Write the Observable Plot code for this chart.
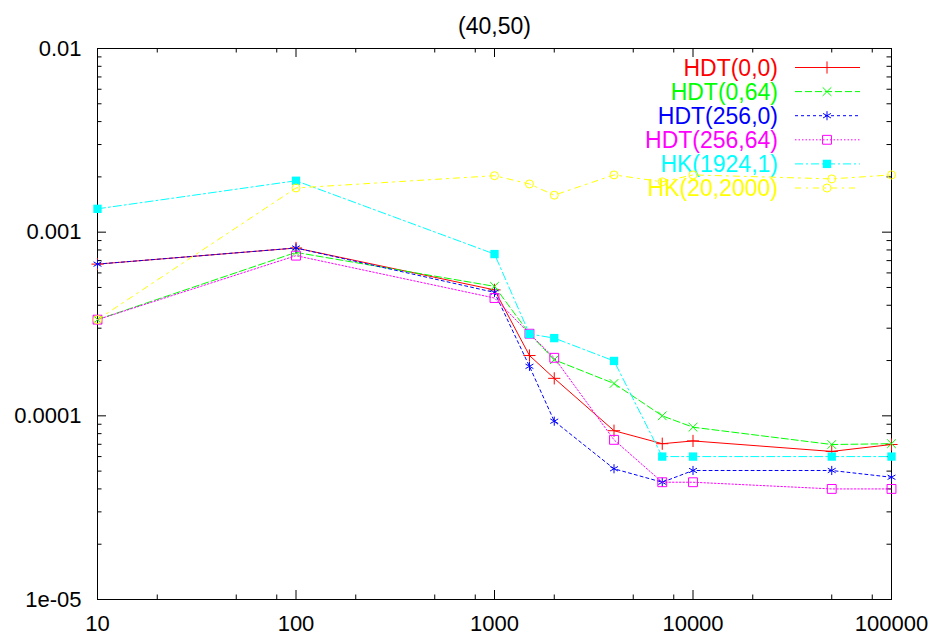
<!DOCTYPE html>
<html><head><meta charset="utf-8">
<script src="https://cdn.jsdelivr.net/npm/d3@7"></script>
<script src="https://cdn.jsdelivr.net/npm/@observablehq/plot@0.6"></script>
<style>body{margin:0;background:#fff}</style>
</head><body><div id="chart"></div>
<script>
const title = "(40,50)";
const xValues = [10, 100, 1000, 1500, 2000, 4000, 7000, 10000, 50000, 100000];
const hdt00   = [6.7e-4, 8.2e-4, 4.85e-4, 2.13e-4, 1.6e-4, 8.3e-5, 7.05e-5, 7.3e-5, 6.4e-5, 6.98e-5];
const hdt064  = [3.34e-4, 7.76e-4, 5.07e-4, 2.8e-4, 2.02e-4, 1.5e-4, 1.0e-4, 8.67e-5, 6.98e-5, 7.05e-5];
const hdt2560 = [6.7e-4, 8.2e-4, 4.7e-4, 1.86e-4, 9.35e-5, 5.15e-5, 4.35e-5, 5.04e-5, 5.04e-5, 4.63e-5];
const hdt25664= [3.34e-4, 7.45e-4, 4.38e-4, 2.8e-4, 2.07e-4, 7.4e-5, 4.35e-5, 4.35e-5, 4.0e-5, 4.0e-5];
const hk19241 = [1.34e-3, 1.905e-3, 7.6e-4, 2.79e-4, 2.65e-4, 1.99e-4, 6.0e-5, 6.0e-5, 6.0e-5, 6.0e-5];
const hk202000= [3.34e-4, 1.74e-3, 2.03e-3, 1.83e-3, 1.59e-3, 2.05e-3, 1.88e-3, 2.05e-3, 1.95e-3, 2.05e-3];

const names = ["HDT(0,0)", "HDT(0,64)", "HDT(256,0)", "HDT(256,64)", "HK(1924,1)", "HK(20,2000)"];
const seriesValues = [hdt00, hdt064, hdt2560, hdt25664, hk19241, hk202000];

const xTicks = [10, 100, 1000, 10000, 100000];
const xTickLabels = ["10", "100", "1000", "10000", "100000"];
const yTicks = [1e-5, 1e-4, 1e-3, 1e-2];
const yTickLabels = ["1e-05", "0.0001", "0.001", "0.01"];
const xMinor = [20, 50, 80, 200, 500, 800, 2000, 5000, 8000, 20000, 50000, 80000];
const yMinor = [1e-5, 1e-4, 1e-3].flatMap(d => [2,3,4,5,6,7,8,9].map(k => k * d));

// styles
const colors = ["#ff0000", "#00ff00", "#0000ff", "#ff00ff", "#00ffff", "#ffff00"];
const dashes = [null, "7,3", "3,3", "1.5,2", "8,3,2,3", "6,5,2,5"];
const symbols = ["plus", "times", "asterisk", "square", "square", "circle"];
const d3Symbols = [d3.symbolPlus, d3.symbolTimes, d3.symbolAsterisk, d3.symbolSquare, d3.symbolSquare, d3.symbolCircle];
const filled = [false, false, false, false, true, false];
const radii = [4, 4, 4.3, 5, 4.7, 4];

const rows = seriesValues.flatMap((vals, i) => vals.map((v, j) => ({series: names[i], x: xValues[j], y: v})));

const W = 933, H = 640, mL = 97, mR = 42, mT = 48, mB = 41;
const plotH = H - mT - mB, plotW = W - mL - mR;
const MAJ = 9, MIN = 4.5;
const font = "'Liberation Sans', Arial, Helvetica, sans-serif";

function legend(index, scales, values, dims) {
  const g = d3.create("svg:g").attr("font-size", 23).attr("font-family", font);
  const right = dims.width - dims.marginRight;
  names.forEach((name, i) => {
    const y = dims.marginTop + 19.5 + i * 24.1;
    g.append("text").attr("x", right - 113).attr("y", y).attr("dy", "0.35em")
      .attr("text-anchor", "end").attr("fill", colors[i]).text(name);
    const ln = g.append("line").attr("x1", right - 96).attr("x2", right - 31)
      .attr("y1", y).attr("y2", y).attr("stroke", colors[i]).attr("stroke-width", 1);
    if (dashes[i]) ln.attr("stroke-dasharray", dashes[i]);
    g.append("path").attr("transform", `translate(${right - 64},${y})`)
      .attr("d", d3.symbol(d3Symbols[i], Math.PI * radii[i] ** 2)())
      .attr("fill", filled[i] ? colors[i] : "none")
      .attr("stroke", filled[i] ? "none" : colors[i]).attr("stroke-width", 1);
  });
  return g.node();
}

const marks = [
  Plot.frame({stroke: "black", strokeWidth: 1}),
  Plot.tickX(xTicks, {x: d => d, insetTop: plotH - MAJ}),
  Plot.tickX(xTicks, {x: d => d, insetBottom: plotH - MAJ}),
  Plot.tickX(xMinor, {x: d => d, insetTop: plotH - MIN}),
  Plot.tickX(xMinor, {x: d => d, insetBottom: plotH - MIN}),
  Plot.tickY(yTicks, {y: d => d, insetRight: plotW - MAJ}),
  Plot.tickY(yTicks, {y: d => d, insetLeft: plotW - MAJ}),
  Plot.tickY(yMinor, {y: d => d, insetRight: plotW - MIN}),
  Plot.tickY(yMinor, {y: d => d, insetLeft: plotW - MIN}),
  Plot.text([title], {text: d => d, frameAnchor: "top", dy: -31, fontSize: 23}),
  legend
];
names.forEach((name, i) => {
  const data = rows.filter(r => r.series === name);
  marks.push(Plot.line(data, {x: "x", y: "y", stroke: colors[i], strokeWidth: 1,
    strokeDasharray: dashes[i] || undefined}));
  marks.push(Plot.dot(data, {x: "x", y: "y", symbol: symbols[i], r: radii[i],
    fill: filled[i] ? colors[i] : "none", stroke: filled[i] ? "none" : colors[i], strokeWidth: 1}));
});

const chart = Plot.plot({
  width: W, height: H,
  marginLeft: mL, marginRight: mR, marginTop: mT, marginBottom: mB,
  style: {fontSize: "22px", fontFamily: font, background: "white", color: "black"},
  x: {type: "log", domain: [10, 100000], ticks: xTicks, tickSize: 0, tickPadding: 16,
      tickFormat: d => xTickLabels[xTicks.indexOf(d)], label: null},
  y: {type: "log", domain: [1e-5, 1e-2], ticks: yTicks, tickSize: 0, tickPadding: 16,
      tickFormat: d => yTickLabels[yTicks.findIndex(t => Math.abs(t - d) / t < 1e-6)], label: null},
  marks
});
document.getElementById("chart").appendChild(chart);
</script>
</body></html>
